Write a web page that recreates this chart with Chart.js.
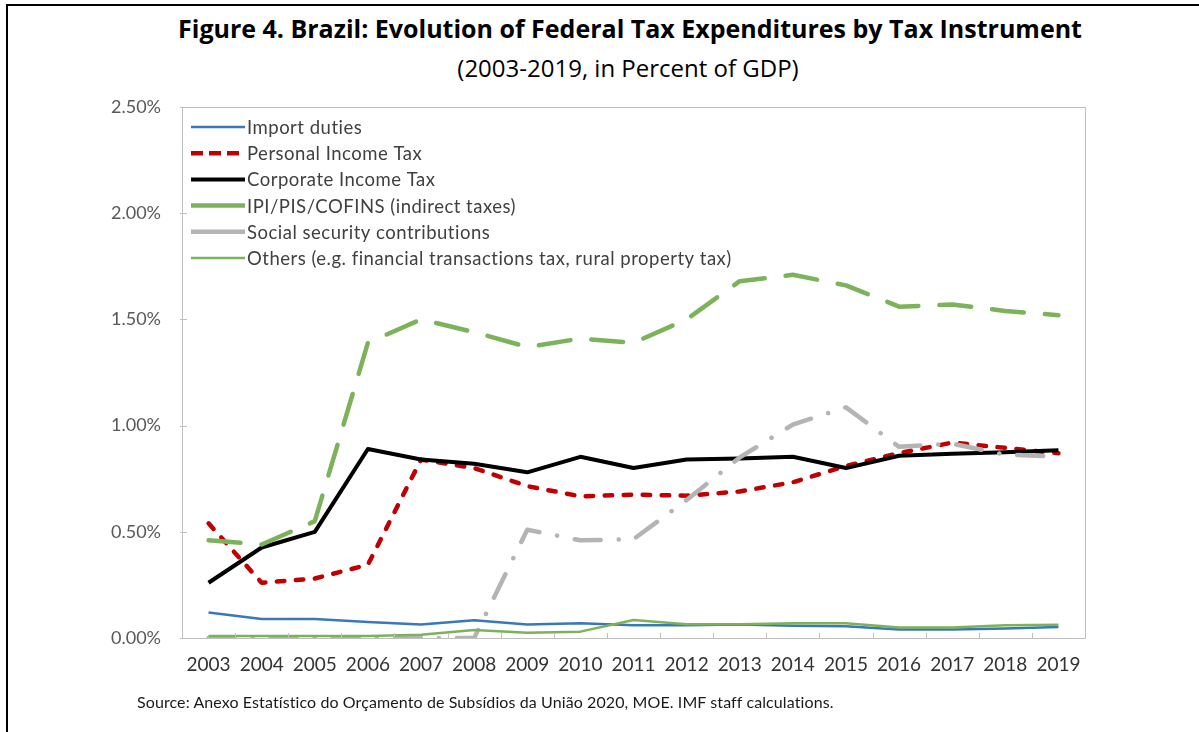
<!DOCTYPE html>
<html>
<head>
<meta charset="utf-8">
<script src="https://cdn.jsdelivr.net/npm/chart.js@4.4.1/dist/chart.umd.min.js"></script>
<style>
  html, body { margin: 0; padding: 0; background: #fff; }
  #wrap { position: relative; width: 1199px; height: 732px; overflow: hidden; }
  #frame { position: absolute; left: 6px; top: 4px; right: -10px; bottom: -10px; border-left: 2.5px solid #000; border-top: 2.5px solid #000; }
  #title { position: absolute; left: 0; width: 1260px; top: 11px; text-align: center; font: bold 25px "Open Sans", sans-serif; color: #000; }
  #subtitle { position: absolute; left: 0; width: 1256px; top: 51px; text-align: center; font: 24px "Open Sans", sans-serif; color: #000; }
  #source { position: absolute; left: 137px; top: 692px; font: 16px Lato, sans-serif; letter-spacing: 0.1px; color: #1a1a1a; }
  canvas { position: absolute; left: 0; top: 0; }
</style>
</head>
<body>
<div id="wrap">
  <div id="frame"></div>
  <div id="title">Figure 4. Brazil: Evolution of Federal Tax Expenditures by Tax Instrument</div>
  <div id="subtitle">(2003-2019, in Percent of GDP)</div>
  <canvas id="chart" width="1199" height="732"></canvas>
  <div id="source">Source: Anexo Estatístico do Orçamento de Subsídios da União 2020, MOE. IMF staff calculations.</div>
</div>
<script>
const years = ['2003','2004','2005','2006','2007','2008','2009','2010','2011','2012','2013','2014','2015','2016','2017','2018','2019'];
const yTicks = [0, 0.5, 1.0, 1.5, 2.0, 2.5];

// percent of GDP
const importDuties = [0.12, 0.09, 0.09, 0.075, 0.063, 0.083, 0.063, 0.07, 0.06, 0.06, 0.063, 0.058, 0.055, 0.04, 0.04, 0.045, 0.052];
const personalIncome = [0.54, 0.26, 0.28, 0.345, 0.84, 0.80, 0.715, 0.667, 0.675, 0.67, 0.69, 0.733, 0.81, 0.87, 0.92, 0.895, 0.87];
const corporateIncome = [0.26, 0.426, 0.50, 0.89, 0.84, 0.82, 0.78, 0.853, 0.80, 0.84, 0.845, 0.853, 0.80, 0.858, 0.868, 0.874, 0.884];
const indirectTaxes = [0.46, 0.44, 0.55, 1.39, 1.50, 1.44, 1.37, 1.41, 1.39, 1.50, 1.68, 1.71, 1.66, 1.56, 1.57, 1.54, 1.52];
const socialSecurity = [0, 0, 0, 0, 0, 0, 0.51, 0.46, 0.465, 0.65, 0.85, 1.005, 1.086, 0.90, 0.915, 0.863, 0.855];
const others = [0.01, 0.01, 0.01, 0.01, 0.015, 0.038, 0.025, 0.03, 0.085, 0.065, 0.065, 0.07, 0.07, 0.05, 0.05, 0.06, 0.062];

const seriesLabels = [
  'Import duties',
  'Personal Income Tax',
  'Corporate Income Tax',
  'IPI/PIS/COFINS (indirect taxes)',
  'Social security contributions',
  'Others (e.g. financial transactions tax, rural property tax)'
];

const axisGray = '#bfbfbf';
const textGray = '#404040';

// box around the plot area, inward tick marks, and the legend inside the plot
const plotDecor = {
  id: 'plotDecor',
  afterDatasetsDraw(chart) {
    const { ctx, chartArea: a, scales } = chart;
    ctx.save();
    ctx.strokeStyle = axisGray;
    ctx.lineWidth = 1;
    ctx.beginPath();
    ctx.moveTo(a.left + 0.5, a.bottom + 0.5);
    ctx.lineTo(a.left + 0.5, a.top + 0.5);
    ctx.lineTo(a.right + 0.5, a.top + 0.5);
    ctx.lineTo(a.right + 0.5, a.bottom + 0.5);
    ctx.lineTo(a.left + 0.5, a.bottom + 0.5);
    const step = scales.x.getPixelForValue(1) - scales.x.getPixelForValue(0);
    for (let i = 1; i < years.length; i++) {
      const px = Math.round(scales.x.getPixelForValue(i) - step / 2) + 0.5;
      ctx.moveTo(px, a.bottom);
      ctx.lineTo(px, a.bottom - 5);
    }
    yTicks.forEach(v => {
      const py = Math.round(scales.y.getPixelForValue(v)) + 0.5;
      ctx.moveTo(a.left - 2, py);
      ctx.lineTo(a.left + 5, py);
    });
    ctx.stroke();

    // legend
    const x0 = a.left + 9, lineLen = 54, rowH = 26.2, y0 = a.top + 20;
    ctx.font = '18.5px Lato, sans-serif';
    ctx.letterSpacing = '0.5px';
    ctx.textBaseline = 'middle';
    ctx.fillStyle = textGray;
    chart.data.datasets.forEach((ds, i) => {
      const y = y0 + i * rowH;
      ctx.save();
      ctx.strokeStyle = ds.borderColor;
      ctx.lineWidth = ds.borderWidth;
      ctx.lineCap = 'butt';
      ctx.setLineDash(ds.legendDash || []);
      ctx.beginPath();
      ctx.moveTo(x0, y);
      ctx.lineTo(x0 + lineLen, y);
      ctx.stroke();
      ctx.restore();
      ctx.fillText(ds.label, x0 + lineLen + 2, y + 1);
    });
    ctx.restore();
  }
};

new Chart(document.getElementById('chart'), {
  type: 'line',
  data: {
    labels: years,
    datasets: [
      { label: seriesLabels[0], data: importDuties, borderColor: '#3a78b8', borderWidth: 2.5, order: 6 },
      { label: seriesLabels[1], data: personalIncome, borderColor: '#c00000', borderWidth: 4.5,
        borderDash: [7.5, 11.5], borderCapStyle: 'round', legendDash: [12, 6], order: 5 },
      { label: seriesLabels[2], data: corporateIncome, borderColor: '#000000', borderWidth: 4, order: 4 },
      { label: seriesLabels[3], data: indirectTaxes, borderColor: '#7cb35a', borderWidth: 4.5,
        borderDash: [32, 21], borderCapStyle: 'round', order: 3 },
      { label: seriesLabels[4], data: socialSecurity, borderColor: '#b4b4b4', borderWidth: 4.5,
        borderDash: [26, 18, 0.1, 18], borderCapStyle: 'round', order: 2 },
      { label: seriesLabels[5], data: others, borderColor: '#7cb35a', borderWidth: 2.5, order: 1 }
    ]
  },
  options: {
    responsive: false,
    animation: false,
    layout: { padding: { left: 0, top: 107, right: 114, bottom: 0 } },
    elements: {
      point: { radius: 0, hoverRadius: 0 },
      line: { tension: 0, borderJoinStyle: 'round' }
    },
    plugins: {
      legend: { display: false },
      tooltip: { enabled: false },
      title: { display: false }
    },
    scales: {
      x: {
        offset: true,
        afterFit(scale) { scale.height = 94; },
        grid: { display: false, drawTicks: false },
        border: { display: false },
        ticks: { color: '#333333', padding: 15, maxRotation: 0, autoSkip: false,
                 font: { family: 'Lato', size: 19 } }
      },
      y: {
        min: 0,
        max: 2.5,
        afterFit(scale) { scale.width = 182; },
        afterBuildTicks(scale) { scale.ticks = yTicks.map(v => ({ value: v })); },
        grid: { display: false, drawTicks: false },
        border: { display: false },
        ticks: { color: '#595959', padding: 21,
                 font: { family: 'Lato', size: 18 },
                 callback: v => v.toFixed(2) + '%' }
      }
    }
  },
  plugins: [plotDecor]
});
</script>
</body>
</html>
